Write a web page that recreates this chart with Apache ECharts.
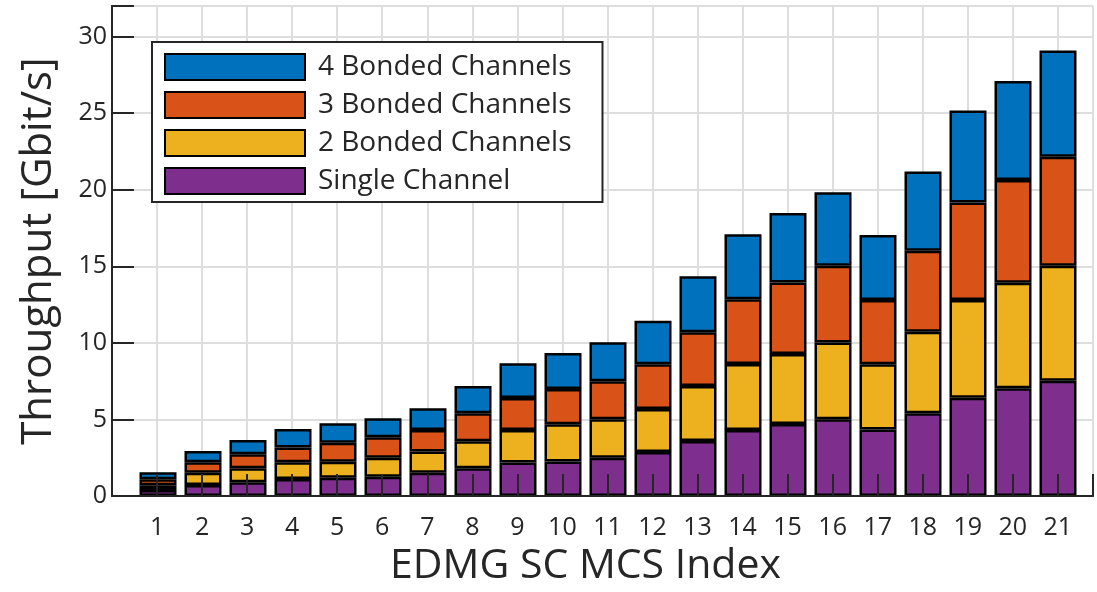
<!DOCTYPE html>
<html>
<head>
<meta charset="utf-8">
<script src="https://cdn.jsdelivr.net/npm/echarts@6/dist/echarts.min.js"></script>
<style>html,body{margin:0;padding:0;background:#fff}#c{width:1097px;height:592px}</style>
</head>
<body>
<div id="c"></div>
<script>
const mcsIndex = ['1','2','3','4','5','6','7','8','9','10','11','12','13','14','15','16','17','18','19','20','21'];
const singleChannel = [0.39,0.72,0.90,1.11,1.20,1.26,1.52,1.81,2.18,2.26,2.50,2.87,3.59,4.31,4.71,5.01,4.35,5.40,6.42,7.03,7.53];
const bonded2 = [0.31,0.80,0.91,1.09,1.04,1.24,1.38,1.76,2.13,2.42,2.51,2.81,3.59,4.31,4.57,5.01,4.25,5.33,6.38,6.90,7.51];
const bonded3 = [0.39,0.68,0.91,0.96,1.24,1.33,1.41,1.83,2.09,2.31,2.48,2.92,3.51,4.23,4.66,5.01,4.20,5.29,6.36,6.71,7.12];
const bonded4 = [0.46,0.74,0.94,1.22,1.27,1.24,1.42,1.78,2.27,2.35,2.55,2.85,3.66,4.24,4.54,4.81,4.25,5.17,6.01,6.46,6.93];
const yTicks = [0,5,10,15,20,25,30];
const seriesNames = ['Single Channel','2 Bonded Channels','3 Bonded Channels','4 Bonded Channels'];

const colors = ['#7E2F8E','#EDB120','#D95319','#0072BD'];
const dataSets = [singleChannel, bonded2, bonded3, bonded4];
const FONT = 'Open Sans';
const TXT = '#262626';
const GRIDC = '#dedede';

const chart = echarts.init(document.getElementById('c'), null, {renderer:'canvas'});
const series = dataSets.map((d, i) => ({
  name: seriesNames[i],
  type: 'bar',
  stack: 'total',
  xAxisIndex: 4,
  yAxisIndex: 4,
  barWidth: 37,
  data: d,
  itemStyle: {color: colors[i], borderColor: '#000', borderWidth: 2.5},
  emphasis: {disabled: true}
}));

const axisLine = {show: true, lineStyle: {color: TXT, width: 2}};
const TL = 11;
const tick = {show: true, length: TL, lineStyle: {color: TXT, width: 2}};
const XMAX = 21.78, YMAX = 32;
const isShownY = v => yTicks.indexOf(v) >= 0;

function tickAxis(position, max, interval) {
  return {
    gridIndex: 0, type: 'value', position: position, offset: -TL, min: 0, max: max, interval: interval, z: 10,
    axisLine: {show: false}, axisTick: tick, axisLabel: {show: false}, splitLine: {show: false}
  };
}

chart.setOption({
  animation: false,
  grid: [
    {left: 112, right: 4, top: 6, bottom: 96, containLabel: false},
    {left: 135.5, right: 16.5, top: 6, bottom: 96, containLabel: false}
  ],
  legend: {
    orient: 'vertical',
    left: 152, top: 42,
    data: ['4 Bonded Channels','3 Bonded Channels','2 Bonded Channels','Single Channel'],
    icon: 'rect',
    itemWidth: 140, itemHeight: 26, itemGap: 10,
    padding: [11, 31, 7, 12],
    backgroundColor: '#fff',
    borderColor: TXT, borderWidth: 2, borderRadius: 0,
    textStyle: {fontFamily: FONT, fontSize: 28, color: TXT, lineHeight: 28, padding: [0, 0, 0, 8]},
    selectedMode: false
  },
  xAxis: [
    {
      gridIndex: 0, type: 'value', position: 'bottom', min: 0, max: XMAX, interval: 1, z: 10,
      axisLine: axisLine, axisTick: {show: false},
      splitLine: {show: false},
      axisLabel: {
        margin: 19, fontFamily: FONT, fontSize: 25, color: TXT,
        formatter: v => (Number.isInteger(v) && v >= 1 && v <= mcsIndex.length) ? mcsIndex[v - 1] : ''
      },
      name: 'EDMG SC MCS Index', nameLocation: 'middle', nameGap: 50,
      nameTextStyle: {fontFamily: FONT, fontSize: 41, color: TXT, padding: [0, 34, 0, 0]}
    },
    {
      gridIndex: 0, type: 'value', position: 'top', min: 0, max: XMAX, interval: 1, z: 0,
      axisLine: axisLine, axisTick: {show: false}, axisLabel: {show: false},
      splitLine: {show: true, lineStyle: {color: GRIDC, width: 2}}
    },
    tickAxis('bottom', XMAX, 1),
    tickAxis('top', XMAX, 1),
    {
      gridIndex: 1, type: 'category', data: mcsIndex, show: false
    }
  ],
  yAxis: [
    {
      gridIndex: 0, type: 'value', position: 'left', min: 0, max: YMAX, interval: 5, z: 10,
      axisLine: axisLine, axisTick: {show: false},
      splitLine: {show: false},
      axisLabel: {
        margin: 5, fontFamily: FONT, fontSize: 25, color: TXT,
        formatter: v => isShownY(v) ? String(v) : ''
      },
      name: 'Throughput [Gbit/s]', nameLocation: 'middle', nameGap: 52,
      nameTextStyle: {fontFamily: FONT, fontSize: 42, color: TXT}
    },
    {
      gridIndex: 0, type: 'value', position: 'right', min: 0, max: YMAX, interval: 5, z: 0,
      axisLine: axisLine, axisTick: {show: false}, axisLabel: {show: false},
      splitLine: {show: true, lineStyle: {color: GRIDC, width: 2}}
    },
    tickAxis('left', YMAX, 5),
    tickAxis('right', YMAX, 5),
    {
      gridIndex: 1, type: 'value', min: 0, max: YMAX, show: false
    }
  ],
  series: series
});
</script>
</body>
</html>
